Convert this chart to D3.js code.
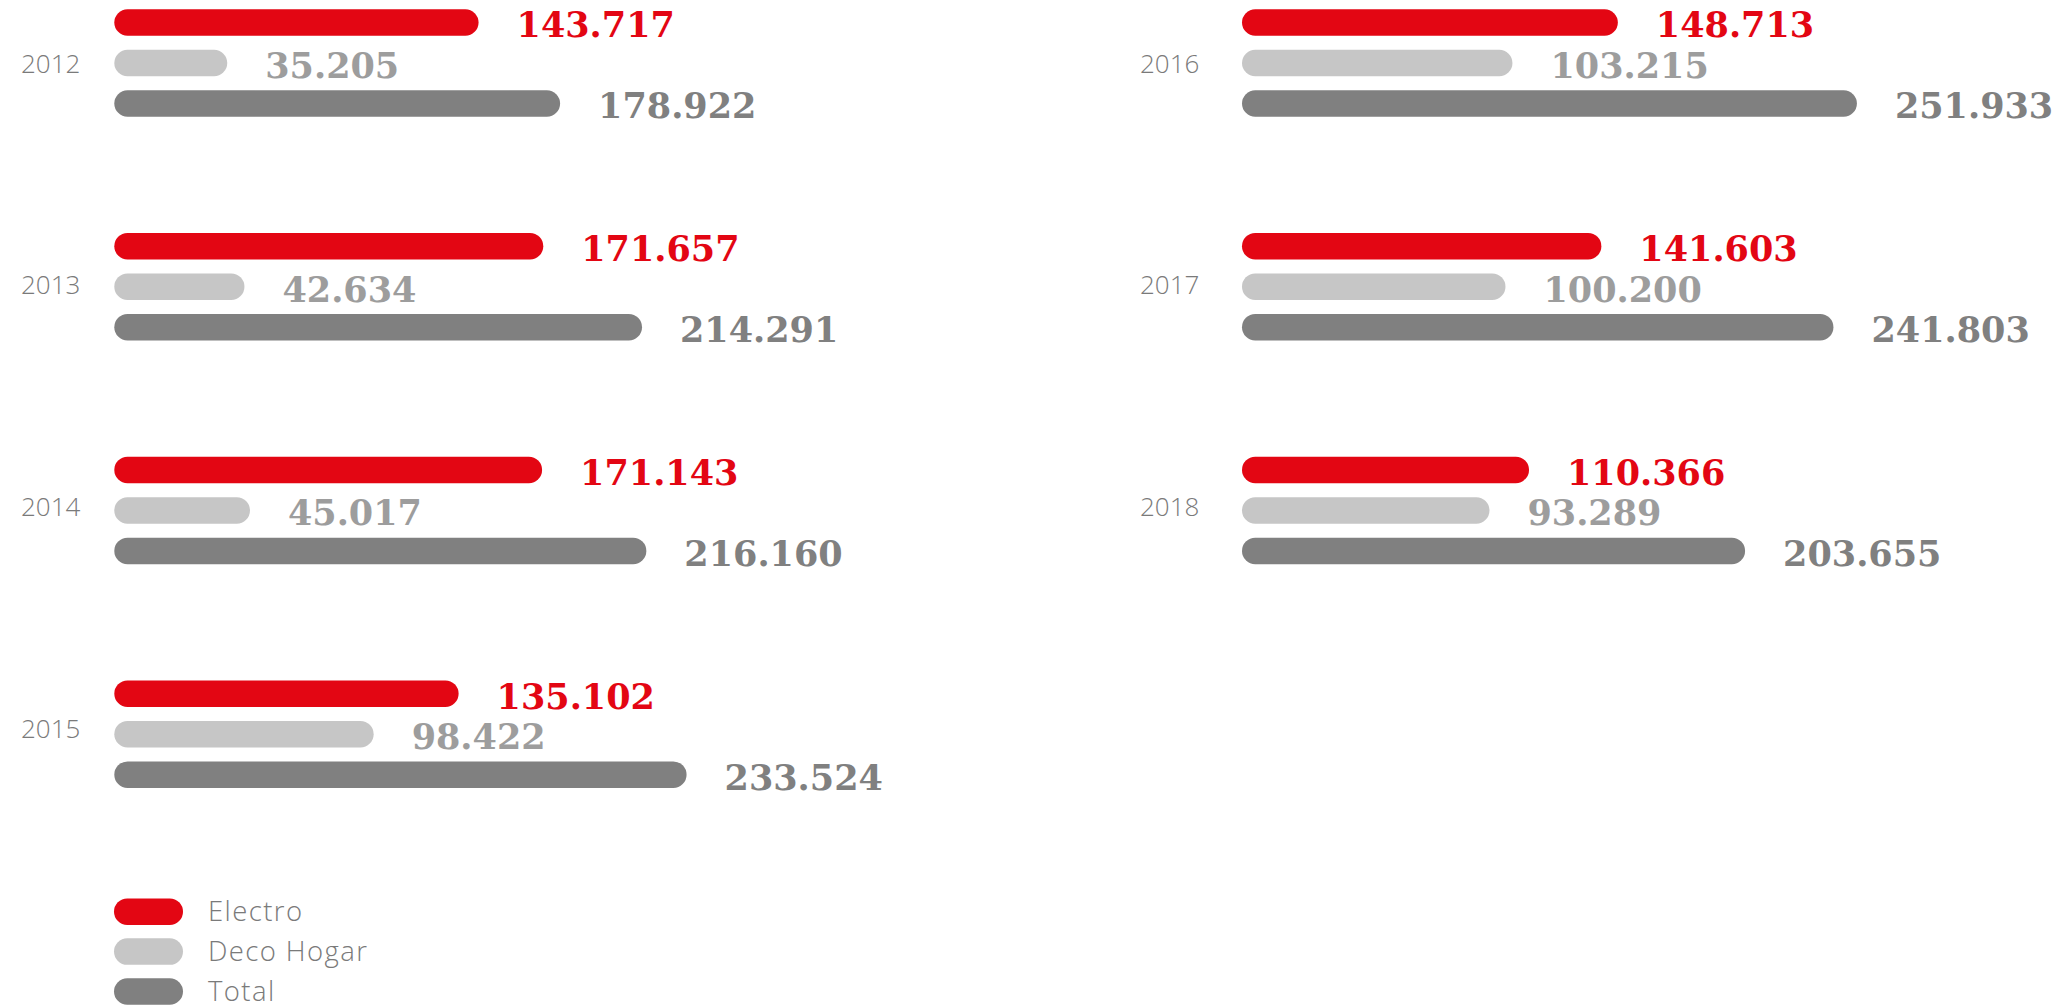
<!DOCTYPE html>
<html lang="es">
<head>
<meta charset="UTF-8">
<title>Electro / Deco Hogar / Total</title>
<script src="https://d3js.org/d3.v7.min.js"></script>
<style>
body {margin: 0; background: #fff;}
svg {display: block;}
.year {font-family: "Open Sans", sans-serif; font-weight: 300; font-size: 26px; fill: #7a7a7a;}
.val {font-family: "DejaVu Serif", serif; font-weight: bold; font-size: 35px;}
.leg {font-family: "Open Sans", sans-serif; font-weight: 300; font-size: 27.5px; fill: #7a7a7a; letter-spacing: 1.4px;}
</style>
</head>
<body>
<svg width="2060" height="1005"></svg>
<script>
// values (thousands)
const years = ["2012", "2013", "2014", "2015", "2016", "2017", "2018"];
const electro = [143.717, 171.657, 171.143, 135.102, 148.713, 141.603, 110.366];
const decoHogar = [35.205, 42.634, 45.017, 98.422, 103.215, 100.200, 93.289];
const total = [178.922, 214.291, 216.160, 233.524, 251.933, 241.803, 203.655];
const seriesNames = ["Electro", "Deco Hogar", "Total"];

const barColor = {"Electro": "#e30613", "Deco Hogar": "#c6c6c6", "Total": "#808080"};
const labelColor = {"Electro": "#e30613", "Deco Hogar": "#9d9d9d", "Total": "#808080"};

const svg = d3.select("svg");
const barH = 26.5;

// two columns of year panels
const cols = [{barX: 114.3, yearX: 21}, {barX: 1242, yearX: 1140}];
const rowY = d3.scaleLinear().domain([0, 3]).range([22.5, 693.7]);
const yearY = d3.scaleLinear().domain([0, 3]).range([63, 728]);
const offY = d3.scalePoint().domain(seriesNames).range([0, 81]);
const x = d3.scaleLinear().domain([0, d3.max(total)]).range([31.4, 614.9]);
const fmt = d3.format(".3f");

const rows = years.map(function(y, i) {
  return {
    year: y,
    col: cols[i < 4 ? 0 : 1],
    row: i < 4 ? i : i - 4,
    vals: [
      {name: "Electro", v: electro[i]},
      {name: "Deco Hogar", v: decoHogar[i]},
      {name: "Total", v: total[i]}
    ]
  };
});

const panel = svg.selectAll("g.panel")
  .data(rows)
  .enter()
  .append("g")
  .attr("class", "panel");

panel.append("text")
  .attr("class", "year")
  .attr("x", d => d.col.yearX)
  .attr("y", d => yearY(d.row) + 9.5)
  .text(d => d.year);

panel.each(function(d) {
  const g = d3.select(this);
  const cy = rowY(d.row);
  g.selectAll("rect")
    .data(d.vals)
    .enter()
    .append("rect")
    .attr("x", d.col.barX)
    .attr("y", v => cy + offY(v.name) - barH / 2)
    .attr("width", v => x(v.v))
    .attr("height", barH)
    .attr("rx", barH / 2)
    .attr("fill", v => barColor[v.name]);

  g.selectAll("text.val")
    .data(d.vals)
    .enter()
    .append("text")
    .attr("class", "val")
    .attr("x", v => d.col.barX + x(v.v) + 38)
    .attr("y", v => cy + offY(v.name) + 14.8)
    .attr("fill", v => labelColor[v.name])
    .text(v => fmt(v.v));
});

// legend
const legY = d3.scalePoint().domain(seriesNames).range([911.7, 991.5]);
const leg = svg.append("g").selectAll("g")
  .data(seriesNames)
  .enter()
  .append("g");

leg.append("rect")
  .attr("x", 114)
  .attr("y", d => legY(d) - barH / 2)
  .attr("width", 69)
  .attr("height", barH)
  .attr("rx", barH / 2)
  .attr("fill", d => barColor[d]);

leg.append("text")
  .attr("class", "leg")
  .attr("x", 208)
  .attr("y", d => legY(d) + 9.5)
  .text(d => d);
</script>
</body>
</html>
